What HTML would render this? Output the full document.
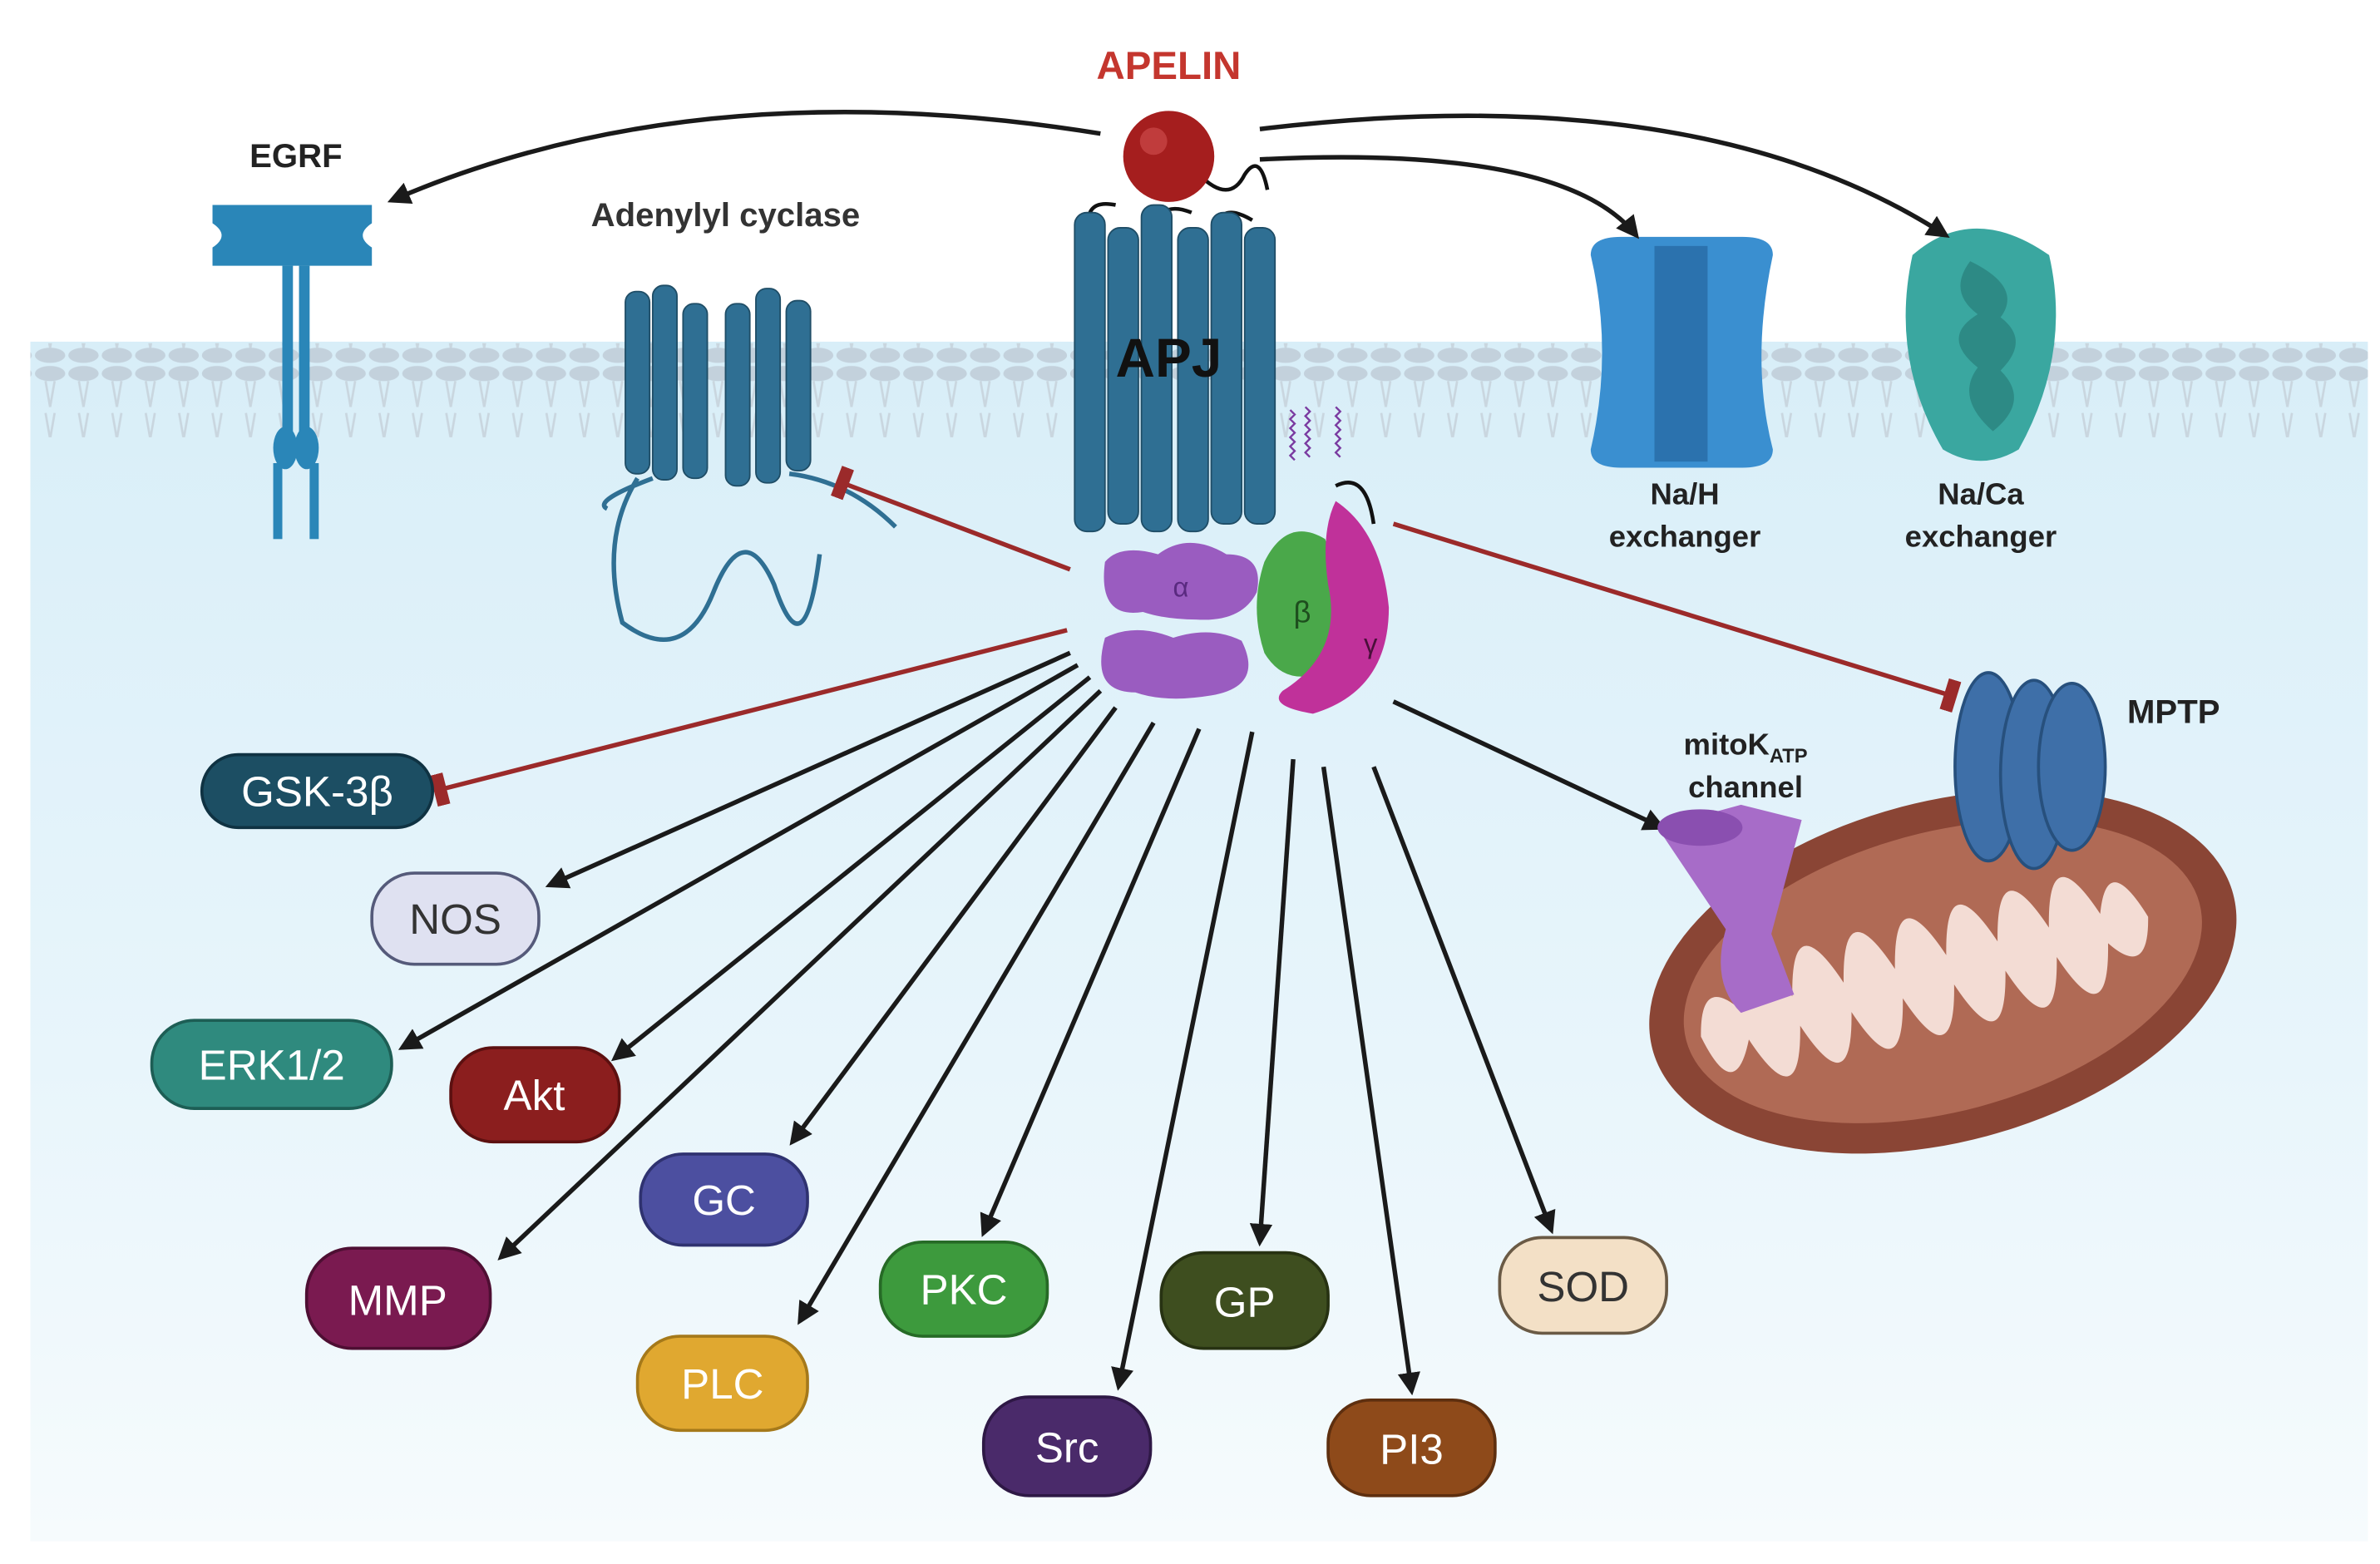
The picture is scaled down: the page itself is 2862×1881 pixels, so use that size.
<!DOCTYPE html>
<html><head><meta charset="utf-8"><style>
html,body{margin:0;padding:0;background:#fff}
svg{display:block}
text{font-family:"Liberation Sans",sans-serif}
</style></head><body>
<svg width="2862" height="1881" viewBox="0 0 1568 1030" preserveAspectRatio="none" xmlns="http://www.w3.org/2000/svg">
<defs>
<linearGradient id="bg" x1="0" y1="0" x2="0" y2="1">
<stop offset="0" stop-color="#d8eef8"/><stop offset="0.6" stop-color="#e8f5fb"/><stop offset="1" stop-color="#f6fbfd"/>
</linearGradient>
<marker id="ah" viewBox="0 0 10 10" refX="8" refY="5" markerWidth="5" markerHeight="5" orient="auto"><path d="M0,0 L10,5 L0,10 z" fill="#1a1a1a"/></marker>
<marker id="tb" viewBox="0 0 4 10" refX="2" refY="5" markerWidth="3" markerHeight="7" orient="auto"><rect x="0" y="0" width="4" height="10" fill="#9b2a2a"/></marker>
<pattern id="lip" width="22" height="60" patternUnits="userSpaceOnUse">
<ellipse cx="11" cy="6" rx="10" ry="5" fill="#c3d1dc"/>
<path d="M8,11 L11,28 M14,11 L11,28 M8,32 L11,49 M14,32 L11,49" stroke="#c9d6df" stroke-width="1.5" fill="none"/>
<ellipse cx="11" cy="54" rx="10" ry="5" fill="#c3d1dc"/>
</pattern>
</defs>
<rect x="20" y="225" width="1540" height="790" fill="url(#bg)"/>
<rect x="20" y="226" width="1540" height="62" fill="url(#lip)"/>

<!-- EGRF -->
<g fill="#2a86b8">
<path d="M140,135 h105 v12 q-12,8 0,16 v12 h-105 v-12 q12,-8 0,-16z"/>
<rect x="186" y="175" width="7" height="110"/><rect x="197" y="175" width="7" height="110"/>
<ellipse cx="188" cy="295" rx="8" ry="14"/><ellipse cx="202" cy="295" rx="8" ry="14"/>
<rect x="180" y="305" width="6" height="50"/><rect x="204" y="305" width="6" height="50"/>
</g>
<text x="195" y="110" font-size="22" font-weight="bold" text-anchor="middle" fill="#222">EGRF</text>

<!-- Adenylyl cyclase -->
<text x="478" y="149" font-size="22" font-weight="bold" text-anchor="middle" fill="#333">Adenylyl cyclase</text>
<g fill="#2f6f93" stroke="#1f4d66" stroke-width="1">
<rect x="412" y="192" width="16" height="120" rx="7"/><rect x="430" y="188" width="16" height="128" rx="7"/><rect x="450" y="200" width="16" height="115" rx="7"/>
<rect x="478" y="200" width="16" height="120" rx="7"/><rect x="498" y="190" width="16" height="128" rx="7"/><rect x="518" y="198" width="16" height="112" rx="7"/>
</g>
<path d="M420,315 q-25,40 -10,95 q40,30 60,-20 q20,-50 40,-5 q20,60 30,-20 M430,315 q-40,15 -30,20 M520,312 q40,5 70,35" stroke="#2f6f93" stroke-width="3" fill="none"/>

<!-- APJ -->
<path d="M720,160 q-10,-30 15,-25 M760,160 q0,-30 25,-20 M800,160 q0,-30 25,-15" stroke="#111" stroke-width="2.5" fill="none"/>
<g fill="#2f6f93" stroke="#1f4d66" stroke-width="1">
<rect x="708" y="140" width="20" height="210" rx="8"/><rect x="730" y="150" width="20" height="195" rx="8"/><rect x="752" y="135" width="20" height="215" rx="8"/>
<rect x="776" y="150" width="20" height="200" rx="8"/><rect x="798" y="140" width="20" height="205" rx="8"/><rect x="820" y="150" width="20" height="195" rx="8"/>
</g>
<text x="770" y="248" font-size="36" font-weight="bold" text-anchor="middle" fill="#111">APJ</text>
<path d="M790,115 q20,20 30,0 q10,-15 15,10" stroke="#111" stroke-width="2.5" fill="none"/>
<path d="M850,270 l3,3 l-3,3 l3,3 l-3,3 l3,3 l-3,3 l3,3 l-3,3 l3,3 l-3,3 l3,3 M860,268 l3,3 l-3,3 l3,3 l-3,3 l3,3 l-3,3 l3,3 l-3,3 l3,3 l-3,3 l3,3 M880,268 l3,3 l-3,3 l3,3 l-3,3 l3,3 l-3,3 l3,3 l-3,3 l3,3 l-3,3 l3,3" stroke="#7a3aa0" stroke-width="1.3" fill="none"/>
<path d="M880,320 q20,-10 25,25" stroke="#111" stroke-width="2.5" fill="none"/>

<!-- Na/H -->
<path d="M1048,168 q0,-12 20,-12 h80 q20,0 20,12 q-15,70 0,128 q0,12 -20,12 h-80 q-20,0 -20,-12 q15,-64 0,-128z" fill="#3a8fd0"/>
<rect x="1090" y="162" width="35" height="142" fill="#2b72ae"/>
<text x="1110" y="332" font-size="20" font-weight="bold" text-anchor="middle" fill="#222">Na/H</text>
<text x="1110" y="360" font-size="20" font-weight="bold" text-anchor="middle" fill="#222">exchanger</text>
<!-- Na/Ca -->
<path d="M1260,168 q40,-35 90,0 q15,65 -20,128 q-25,15 -50,0 q-35,-60 -20,-128z" fill="#3aa7a0"/>
<path d="M1298,172 q-15,20 5,35 q-25,15 0,35 q-15,20 10,42 q25,-20 5,-40 q20,-20 0,-35 q15,-20 -20,-37z" fill="#2d8a85"/>
<text x="1305" y="332" font-size="20" font-weight="bold" text-anchor="middle" fill="#222">Na/Ca</text>
<text x="1305" y="360" font-size="20" font-weight="bold" text-anchor="middle" fill="#222">exchanger</text>

<!-- APELIN -->
<text x="770" y="52" font-size="26" font-weight="bold" text-anchor="middle" fill="#c4362e">APELIN</text>
<circle cx="770" cy="103" r="30" fill="#a51e1e"/><circle cx="760" cy="93" r="9" fill="#d25050" opacity="0.6"/>
<g stroke="#1a1a1a" stroke-width="3" fill="none" marker-end="url(#ah)">
<path d="M725,88 Q460,45 258,132"/>
<path d="M830,85 Q1120,50 1282,155"/>
<path d="M830,105 Q1030,95 1078,155"/>
</g>

<!-- G protein -->
<g fill="#9a5cc0">
<path d="M728,370 q10,-12 35,-5 q20,-15 45,0 q25,0 20,25 q-10,20 -40,18 q-20,0 -35,-5 q-30,5 -25,-33z"/>
<path d="M728,420 q20,-10 45,0 q25,-8 45,2 q15,30 -20,36 q-30,5 -50,-2 q-30,0 -20,-36z"/>
</g>
<text x="778" y="393" font-size="18" fill="#5a2a80" text-anchor="middle">α</text>
<path d="M833,370 q15,-30 40,-15 q15,40 5,85 q-30,15 -45,-10 q-10,-30 0,-60z" fill="#4aa84a"/>
<text x="858" y="410" font-size="20" fill="#1e4e1e" text-anchor="middle">β</text>
<path d="M880,330 q30,20 35,70 q0,55 -50,70 q-30,-5 -20,-15 q40,-25 30,-70 q-5,-35 5,-55z" fill="#c0319a"/>
<text x="903" y="430" font-size="18" fill="#4a0f3a" text-anchor="middle">γ</text>

<!-- red inhibition -->
<g stroke="#9b2a2a" stroke-width="3" fill="none" marker-end="url(#tb)">
<path d="M705,375 L555,318"/>
<path d="M703,415 L290,520"/>
<path d="M918,345 L1285,458"/>
</g>

<!-- black arrows -->
<g stroke="#1a1a1a" stroke-width="3" fill="none" marker-end="url(#ah)">
<path d="M705,430 L362,583"/>
<path d="M710,438 L265,690"/>
<path d="M718,446 L405,697"/>
<path d="M725,455 L330,828"/>
<path d="M735,466 L522,752"/>
<path d="M760,476 L527,870"/>
<path d="M790,480 L648,812"/>
<path d="M825,482 L737,913"/>
<path d="M852,500 L830,818"/>
<path d="M872,505 L930,916"/>
<path d="M905,505 L1022,810"/>
<path d="M918,462 L1095,545"/>
</g>

<!-- Mitochondrion -->
<g transform="rotate(-15 1280 640)">
<ellipse cx="1280" cy="640" rx="198" ry="112" fill="#8a4535"/>
<ellipse cx="1280" cy="640" rx="175" ry="92" fill="#b06a55"/>
<path d="M1115,640 q10,-40 30,-10 q15,-60 35,0 q15,-60 35,0 q15,-60 35,0 q15,-60 35,0 q15,-60 35,0 q15,-60 35,0 q15,-60 35,0 q15,-40 30,10 q-10,40 -30,10 q-15,60 -35,0 q-15,60 -35,0 q-15,60 -35,0 q-15,60 -35,0 q-15,60 -35,0 q-15,60 -35,0 q-15,60 -35,0 q-20,40 -30,-10z" fill="#f3dcd4"/>
</g>
<!-- MPTP -->
<g fill="#3e6fa8" stroke="#27507d" stroke-width="2">
<ellipse cx="1310" cy="505" rx="22" ry="62"/><ellipse cx="1340" cy="510" rx="22" ry="62"/><ellipse cx="1365" cy="505" rx="22" ry="55"/>
</g>
<text x="1432" y="476" font-size="22" font-weight="bold" text-anchor="middle" fill="#222">MPTP</text>
<!-- mitoK -->
<path d="M1092,545 l55,-15 l40,10 l-20,75 l15,40 l-35,12 q-20,-20 -10,-55z" fill="#a76cc8"/>
<ellipse cx="1120" cy="545" rx="28" ry="12" fill="#8a4fb0"/>
<text x="1150" y="497" font-size="20" font-weight="bold" text-anchor="middle" fill="#222">mitoK<tspan font-size="13" dy="5">ATP</tspan></text>
<text x="1150" y="525" font-size="20" font-weight="bold" text-anchor="middle" fill="#222">channel</text>

<!-- Nodes -->
<g font-size="28" text-anchor="middle">
<rect x="133" y="497" width="152" height="48" rx="24" fill="#1c4e63" stroke="#0f3242" stroke-width="2"/><text x="209" y="531" fill="#fff">GSK-3β</text>
<rect x="245" y="575" width="110" height="60" rx="28" fill="#dfe1f1" stroke="#555a7a" stroke-width="2"/><text x="300" y="615" fill="#333">NOS</text>
<rect x="100" y="672" width="158" height="58" rx="28" fill="#2f8a7e" stroke="#1d5e55" stroke-width="2"/><text x="179" y="711" fill="#fff">ERK1/2</text>
<rect x="297" y="690" width="111" height="62" rx="28" fill="#8b1e1e" stroke="#5c1010" stroke-width="2"/><text x="352" y="731" fill="#fff">Akt</text>
<rect x="422" y="760" width="110" height="60" rx="28" fill="#4c4fa0" stroke="#2f3270" stroke-width="2"/><text x="477" y="800" fill="#fff">GC</text>
<rect x="202" y="822" width="121" height="66" rx="30" fill="#7a1a50" stroke="#4e0f33" stroke-width="2"/><text x="262" y="866" fill="#fff">MMP</text>
<rect x="420" y="880" width="112" height="62" rx="28" fill="#e0a830" stroke="#a5791a" stroke-width="2"/><text x="476" y="921" fill="#fff">PLC</text>
<rect x="580" y="818" width="110" height="62" rx="28" fill="#3d9a3d" stroke="#266a26" stroke-width="2"/><text x="635" y="859" fill="#fff">PKC</text>
<rect x="648" y="920" width="110" height="65" rx="30" fill="#4a2a6a" stroke="#2e1845" stroke-width="2"/><text x="703" y="963" fill="#fff">Src</text>
<rect x="765" y="825" width="110" height="63" rx="28" fill="#3e4e1f" stroke="#273212" stroke-width="2"/><text x="820" y="867" fill="#fff">GP</text>
<rect x="875" y="922" width="110" height="63" rx="28" fill="#8e4a1a" stroke="#5e2f0f" stroke-width="2"/><text x="930" y="964" fill="#fff">PI3</text>
<rect x="988" y="815" width="110" height="63" rx="28" fill="#f3e0c6" stroke="#6a5a45" stroke-width="2"/><text x="1043" y="857" fill="#333">SOD</text>
</g>
</svg>
</body></html>
